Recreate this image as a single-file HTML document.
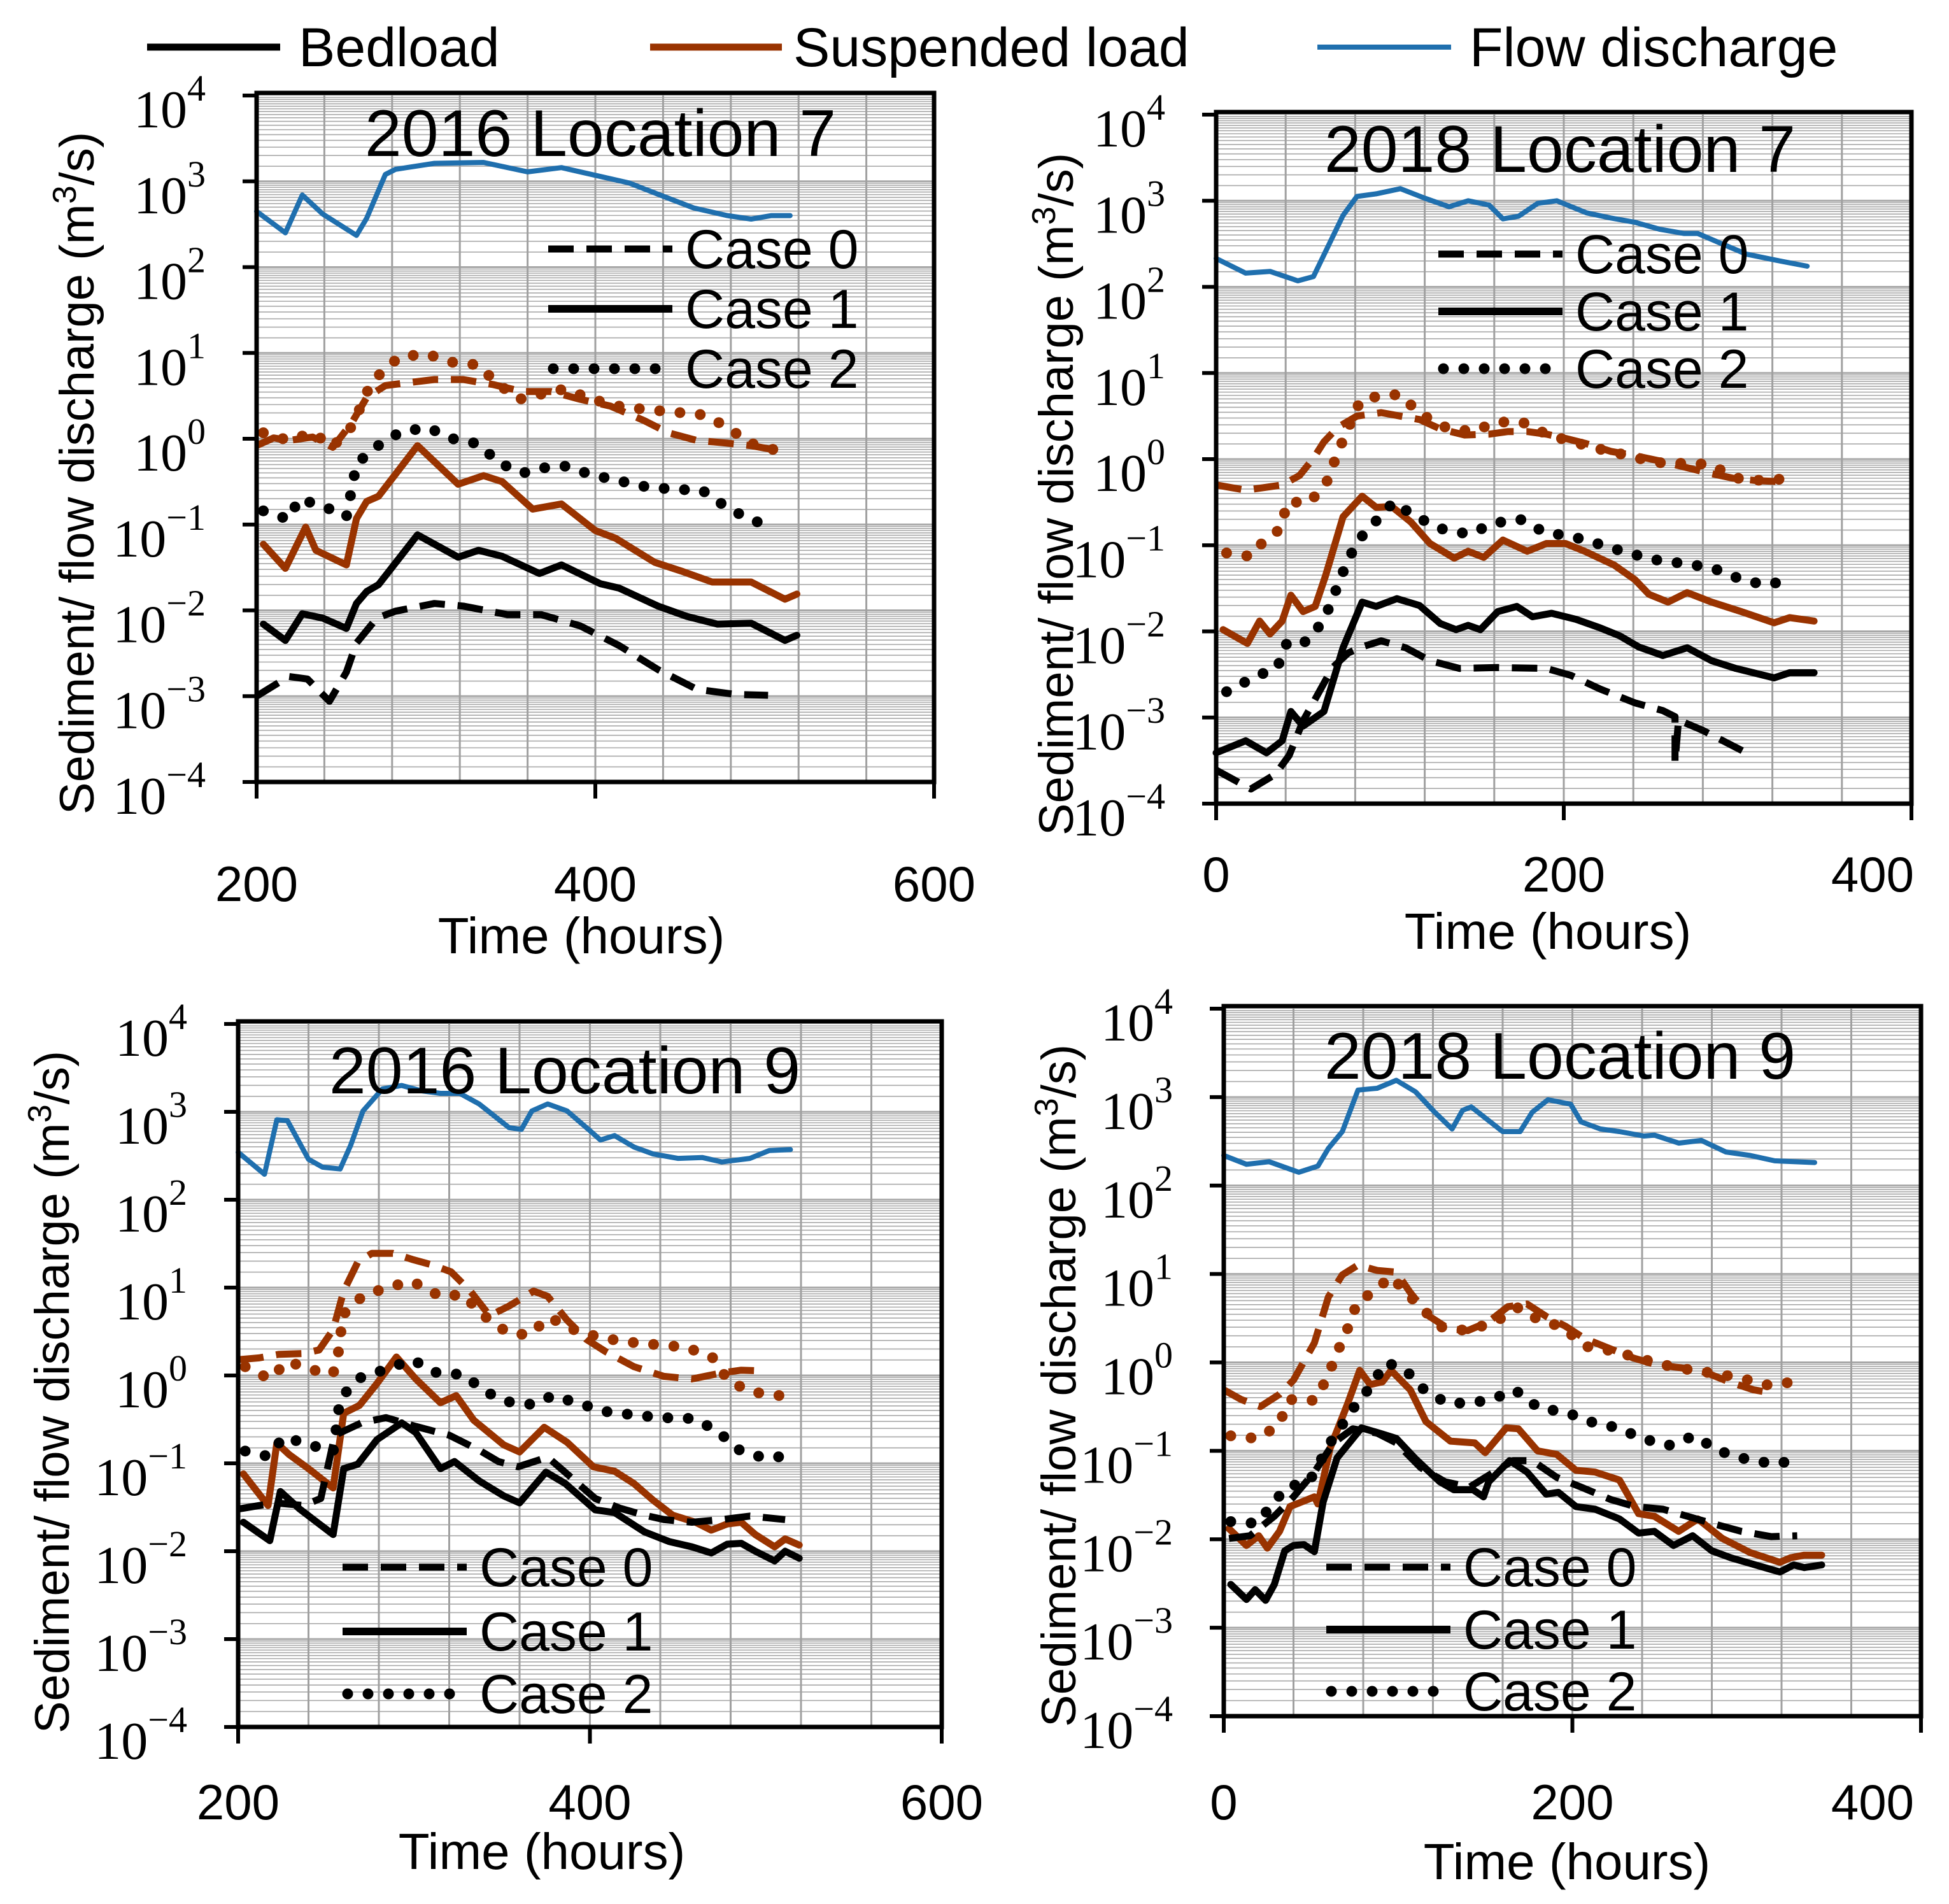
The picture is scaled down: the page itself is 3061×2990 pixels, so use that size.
<!DOCTYPE html>
<html><head><meta charset="utf-8">
<style>
html,body{margin:0;padding:0;background:#fff;}
svg{display:block;}
text{font-family:"Liberation Sans",sans-serif;}
.tk{font-family:"Liberation Serif","DejaVu Serif",serif;font-size:84px;}
</style></head>
<body>
<svg id="chart" width="3061" height="2990" viewBox="0 0 3061 2990" xmlns="http://www.w3.org/2000/svg">
  <g>
    <line x1="231" y1="74" x2="440" y2="74" stroke="#000" stroke-width="11"/>
    <text x="469" y="104" font-size="86">Bedload</text>
    <line x1="1021" y1="74" x2="1228" y2="74" stroke="#993300" stroke-width="11"/>
    <text x="1246" y="104" font-size="86">Suspended load</text>
    <line x1="2069" y1="74" x2="2279" y2="74" stroke="#1f6fae" stroke-width="8"/>
    <text x="2308" y="104" font-size="86">Flow discharge</text>
  </g>
</svg>
<script>
// ---- Panel 1: 2016 Location 7 (values are log10 of discharge) ----
const p1FlowT=[200,217,227,239,259,265,276,282,305,334,360,380,400,420,437,458,478,492,504,515];
const p1FlowV=[2.65,2.40,2.84,2.62,2.37,2.57,3.08,3.14,3.21,3.22,3.11,3.16,3.07,2.98,2.85,2.69,2.60,2.56,2.60,2.60];
const p1Sus1T=[204,217,229,235,253,259,265,272,295,319,334,345,363,380,400,412,435,452,469,492,512,519];
const p1Sus1V=[-1.23,-1.51,-1.03,-1.30,-1.47,-0.93,-0.73,-0.67,-0.08,-0.53,-0.43,-0.50,-0.82,-0.76,-1.07,-1.16,-1.44,-1.55,-1.67,-1.67,-1.87,-1.81];
const p1Bed1T=[204,217,227,239,253,259,265,272,295,319,331,345,367,380,403,414,437,454,472,492,512,519];
const p1Bed1V=[-2.16,-2.35,-2.04,-2.09,-2.21,-1.92,-1.78,-1.70,-1.12,-1.38,-1.30,-1.37,-1.57,-1.47,-1.69,-1.74,-1.95,-2.07,-2.16,-2.15,-2.35,-2.29];
const p1Bed0T=[200,219,230,243,253,259,271,282,305,322,348,368,391,414,437,460,483,502];
const p1Bed0V=[-3.00,-2.77,-2.80,-3.06,-2.72,-2.38,-2.09,-2.01,-1.92,-1.95,-2.05,-2.05,-2.18,-2.41,-2.69,-2.92,-2.98,-2.99];
const p1Bed2T=[204,219,225,241,253,256,259,271,285,301,316,331,343,357,369,382,398,414,430,447,463,477,491,507];
const p1Bed2V=[-0.84,-0.94,-0.70,-0.80,-0.91,-0.60,-0.29,-0.09,0.08,0.13,0.00,-0.06,-0.28,-0.40,-0.34,-0.32,-0.42,-0.49,-0.56,-0.59,-0.60,-0.79,-0.94,-1.04];
const p1Sus0T=[200,210,219,233,245,256,265,276,288,305,322,340,357,374,391,409,429,443,460,477,492,506];
const p1Sus0V=[-0.08,0.01,-0.02,0.02,-0.10,0.18,0.48,0.62,0.65,0.69,0.69,0.63,0.55,0.55,0.46,0.38,0.21,0.07,-0.02,-0.05,-0.08,-0.13];
const p1Sus2T=[204,219,233,245,258,263,271,284,300,316,331,341,355,368,382,398,414,430,447,463,477,491,506];
const p1Sus2V=[0.07,-0.02,0.07,-0.09,0.18,0.48,0.72,0.95,0.99,0.89,0.86,0.66,0.46,0.52,0.58,0.46,0.38,0.34,0.31,0.28,0.15,-0.05,-0.13];

// ---- Panel 2: 2018 Location 7 ----
const p2FlowT=[0,17,31,47,56,73,81,92,106,120,134,145,157,165,174,185,196,213,227,241,255,269,277,291,305,322,340];
const p2FlowV=[2.33,2.16,2.18,2.07,2.12,2.83,3.05,3.08,3.14,3.03,2.93,3.00,2.95,2.79,2.82,2.97,3.00,2.86,2.80,2.75,2.67,2.62,2.62,2.50,2.38,2.31,2.24];
const p2Sus1T=[4,18,25,31,38,43,50,57,63,73,84,92,101,112,123,137,145,154,165,179,190,201,212,229,241,249,260,271,285,302,321,330,344];
const p2Sus1V=[-1.98,-2.14,-1.88,-2.03,-1.88,-1.58,-1.77,-1.71,-1.35,-0.67,-0.43,-0.56,-0.55,-0.73,-0.98,-1.15,-1.07,-1.14,-0.94,-1.07,-0.98,-0.98,-1.07,-1.23,-1.40,-1.57,-1.66,-1.55,-1.66,-1.77,-1.90,-1.84,-1.88];
const p2Bed1T=[0,17,29,38,43,50,62,73,84,92,104,117,129,138,145,152,162,173,182,193,207,221,232,243,257,271,285,299,321,330,344];
const p2Bed1V=[-3.41,-3.27,-3.41,-3.27,-2.93,-3.10,-2.93,-2.19,-1.66,-1.71,-1.62,-1.70,-1.91,-1.98,-1.93,-1.98,-1.77,-1.71,-1.83,-1.79,-1.86,-1.96,-2.05,-2.18,-2.28,-2.19,-2.34,-2.43,-2.54,-2.48,-2.48];
const p2Bed0T=[0,20,34,42,50,67,76,84,95,109,123,140,162,190,204,221,241,257,264,264,266,280,305];
const p2Bed0V=[-3.61,-3.83,-3.66,-3.44,-3.04,-2.42,-2.25,-2.18,-2.11,-2.19,-2.34,-2.43,-2.42,-2.43,-2.51,-2.67,-2.83,-2.92,-2.99,-3.52,-3.03,-3.15,-3.41];
const p2Bed2T=[6,24,35,41,52,62,68,74,81,91,102,115,130,145,161,175,189,205,221,237,253,268,285,300,315,333];
const p2Bed2V=[-2.70,-2.51,-2.43,-2.12,-2.12,-1.87,-1.57,-1.26,-0.96,-0.74,-0.50,-0.67,-0.81,-0.87,-0.74,-0.70,-0.85,-0.90,-0.99,-1.09,-1.17,-1.21,-1.26,-1.38,-1.46,-1.40];
const p2Sus0T=[0,17,38,48,56,62,70,81,95,106,117,129,143,157,168,179,190,201,213,227,241,255,269,283,297,311,324];
const p2Sus0V=[-0.30,-0.36,-0.30,-0.19,0.01,0.20,0.37,0.50,0.54,0.50,0.46,0.35,0.28,0.29,0.32,0.32,0.29,0.24,0.18,0.09,0.04,-0.02,-0.09,-0.16,-0.22,-0.25,-0.26];
const p2Sus2T=[6,20,27,37,41,54,64,70,76,83,95,106,117,132,147,162,176,190,205,220,237,253,269,284,299,315,331];
const p2Sus2V=[-1.09,-1.13,-0.96,-0.81,-0.50,-0.50,-0.25,0.08,0.36,0.68,0.74,0.75,0.53,0.37,0.32,0.43,0.43,0.29,0.20,0.12,0.04,-0.04,-0.05,-0.06,-0.22,-0.25,-0.22];

// ---- Panel 3: 2016 Location 9 ----
const p3FlowT=[200,215,222,228,240,248,258,264,271,282,293,304,315,326,337,354,361,367,376,387,398,406,414,425,436,450,464,475,491,502,514];
const p3FlowV=[2.54,2.29,2.91,2.90,2.46,2.37,2.35,2.62,3.01,3.26,3.30,3.24,3.21,3.21,3.09,2.82,2.80,3.01,3.09,3.01,2.82,2.68,2.73,2.60,2.52,2.47,2.48,2.43,2.47,2.56,2.57];
const p3Sus1T=[203,217,222,229,240,254,260,269,279,290,301,315,324,334,351,360,374,387,402,414,425,436,447,460,469,478,486,494,505,511,519];
const p3Sus1V=[-1.12,-1.48,-0.77,-0.90,-1.06,-1.28,-0.43,-0.34,-0.09,0.21,-0.04,-0.31,-0.23,-0.51,-0.79,-0.87,-0.59,-0.76,-1.04,-1.09,-1.23,-1.42,-1.59,-1.67,-1.76,-1.69,-1.67,-1.81,-1.95,-1.86,-1.93];
const p3Bed1T=[203,218,224,235,254,260,268,279,293,301,315,323,337,351,360,375,386,403,414,431,445,458,469,478,486,494,505,511,519];
const p3Bed1V=[-1.67,-1.88,-1.32,-1.52,-1.81,-1.06,-1.01,-0.73,-0.54,-0.65,-1.06,-0.98,-1.20,-1.37,-1.45,-1.10,-1.23,-1.53,-1.56,-1.78,-1.89,-1.95,-2.02,-1.92,-1.91,-2.00,-2.11,-2.00,-2.08];
const p3Bed0T=[200,221,237,247,255,270,284,301,320,337,348,359,376,387,403,417,431,442,458,475,491,511];
const p3Bed0V=[-1.52,-1.45,-1.48,-1.40,-0.68,-0.54,-0.48,-0.58,-0.68,-0.85,-0.98,-1.04,-0.93,-1.12,-1.40,-1.51,-1.59,-1.64,-1.67,-1.64,-1.60,-1.64];
const p3Bed2T=[204,217,226,241,254,258,269,284,299,313,328,341,354,367,379,394,409,425,441,458,472,484,499,516];
const p3Bed2V=[-0.86,-0.92,-0.70,-0.79,-0.87,-0.26,-0.03,0.07,0.18,0.03,0.01,-0.19,-0.30,-0.33,-0.23,-0.32,-0.41,-0.45,-0.48,-0.49,-0.62,-0.84,-0.94,-0.91];
const p3Sus0T=[200,212,223,237,246,254,260,268,276,288,299,310,321,332,343,354,368,376,387,398,409,425,442,458,475,486,500];
const p3Sus0V=[0.18,0.20,0.24,0.25,0.29,0.52,0.96,1.29,1.39,1.39,1.32,1.26,1.18,0.96,0.68,0.79,0.96,0.90,0.63,0.41,0.27,0.10,-0.01,-0.04,0.03,0.06,0.05];
const p3Sus2T=[204,218,228,243,254,258,259,270,284,299,315,328,339,353,365,377,391,406,422,438,455,470,479,493,508];
const p3Sus2V=[0.10,-0.04,0.16,0.06,0.02,0.35,0.68,0.89,1.00,1.07,0.90,0.92,0.69,0.49,0.46,0.66,0.52,0.43,0.38,0.35,0.32,0.20,-0.07,-0.19,-0.23];

// ---- Panel 4: 2018 Location 9 ----
const p4FlowT=[0,13,26,43,54,60,68,77,88,99,110,121,131,137,142,149,160,170,177,186,199,205,216,227,241,247,261,274,288,302,316,339];
const p4FlowV=[2.34,2.24,2.27,2.15,2.22,2.42,2.61,3.08,3.10,3.19,3.06,2.83,2.64,2.85,2.89,2.78,2.61,2.61,2.83,2.97,2.92,2.72,2.64,2.61,2.56,2.57,2.48,2.51,2.38,2.34,2.28,2.26];
const p4Sus1T=[3,13,20,25,32,38,52,54,61,71,78,84,91,96,107,116,130,144,150,162,169,180,191,202,213,227,238,247,261,272,286,302,319,325,333,343];
const p4Sus1V=[-1.88,-2.07,-1.96,-2.10,-1.91,-1.63,-1.52,-1.60,-0.97,-0.47,-0.09,-0.25,-0.22,-0.09,-0.31,-0.67,-0.89,-0.91,-1.02,-0.74,-0.75,-1.00,-1.04,-1.22,-1.24,-1.33,-1.71,-1.74,-1.91,-1.77,-1.99,-2.15,-2.26,-2.21,-2.18,-2.18];
const p4Bed1T=[4,13,18,24,29,35,40,46,52,57,65,79,91,99,110,124,132,143,149,152,164,174,185,192,202,213,227,238,247,258,269,280,291,305,319,327,333,343];
const p4Bed1V=[-2.51,-2.68,-2.57,-2.69,-2.51,-2.13,-2.07,-2.06,-2.14,-1.58,-1.08,-0.74,-0.81,-0.86,-1.09,-1.35,-1.44,-1.44,-1.52,-1.35,-1.11,-1.24,-1.49,-1.47,-1.63,-1.66,-1.77,-1.93,-1.91,-2.07,-1.96,-2.13,-2.21,-2.29,-2.37,-2.29,-2.32,-2.29];
const p4Bed0T=[3,15,29,40,52,63,74,88,99,113,127,141,155,166,177,191,205,222,236,252,266,280,297,314,329];
const p4Bed0V=[-1.99,-1.96,-1.74,-1.52,-1.24,-0.91,-0.75,-0.80,-0.91,-1.19,-1.35,-1.41,-1.24,-1.11,-1.11,-1.30,-1.41,-1.55,-1.63,-1.66,-1.74,-1.82,-1.91,-1.97,-1.96];
const p4Bed2T=[4,19,36,49,61,75,84,93,104,115,128,142,155,167,181,196,210,226,240,255,270,284,299,316,332];
const p4Bed2V=[-1.80,-1.82,-1.41,-1.35,-0.91,-0.50,-0.28,0.00,-0.08,-0.31,-0.46,-0.46,-0.41,-0.31,-0.52,-0.56,-0.67,-0.74,-0.86,-0.94,-0.83,-1.00,-1.09,-1.15,-1.09];
const p4Sus0T=[0,10,21,32,40,52,60,68,77,88,99,107,118,129,140,152,163,174,185,196,207,221,235,249,262,276,290,304,316];
const p4Sus0V=[-0.31,-0.42,-0.50,-0.36,-0.20,0.22,0.74,0.99,1.10,1.04,1.02,0.79,0.52,0.38,0.36,0.46,0.63,0.66,0.52,0.41,0.27,0.16,0.05,-0.03,-0.06,-0.11,-0.22,-0.31,-0.35];
const p4Sus2T=[4,19,31,38,52,59,65,71,77,84,96,112,125,139,155,169,180,194,208,223,238,253,269,284,299,313,330];
const p4Sus2V=[-0.83,-0.86,-0.72,-0.42,-0.43,-0.19,0.11,0.38,0.70,0.77,0.97,0.64,0.40,0.36,0.45,0.62,0.49,0.40,0.18,0.13,0.05,-0.03,-0.09,-0.13,-0.19,-0.26,-0.21];

const yTickExps=[4,3,2,1,0,-1,-2,-3,-4];
const p1XTicks=[200,400,600];
const p2XTicks=[0,200,400];

const NS="http://www.w3.org/2000/svg";
const svg=document.getElementById('chart');
function mk(tag,attrs,parent){const e=document.createElementNS(NS,tag);for(const k in attrs)e.setAttribute(k,attrs[k]);(parent||svg).appendChild(e);return e;}

const BROWN="#993300",BLUE="#1f6fae";
const panels=[
 {id:'2016-loc7',title:'2016 Location 7',x0:403,x1:1467,xmin:200,xmax:600,yT:150,yB:1228,ticks:p1XTicks,
  titleX:943,titleY:245,xlabY:1415,xtitle:[913,1497],ytitle:[121,743],legX:861,legY:[391,485,579],
  s:[[p1FlowT,p1FlowV,'flow'],[p1Sus0T,p1Sus0V,'sus0'],[p1Sus2T,p1Sus2V,'sus2'],[p1Sus1T,p1Sus1V,'sus1'],[p1Bed0T,p1Bed0V,'bed0'],[p1Bed2T,p1Bed2V,'bed2'],[p1Bed1T,p1Bed1V,'bed1']]},
 {id:'2018-loc7',title:'2018 Location 7',x0:1910,x1:3002,xmin:0,xmax:400,yT:180,yB:1262,ticks:p2XTicks,
  titleX:2450,titleY:270,xlabY:1400,xtitle:[2431,1490],ytitle:[1659,776],legX:2259,legY:[399,489,579],
  s:[[p2FlowT,p2FlowV,'flow'],[p2Sus0T,p2Sus0V,'sus0'],[p2Sus2T,p2Sus2V,'sus2'],[p2Sus1T,p2Sus1V,'sus1'],[p2Bed0T,p2Bed0V,'bed0'],[p2Bed2T,p2Bed2V,'bed2'],[p2Bed1T,p2Bed1V,'bed1']]},
 {id:'2016-loc9',title:'2016 Location 9',x0:374,x1:1479,xmin:200,xmax:600,yT:1608,yB:2712,ticks:p1XTicks,
  titleX:887,titleY:1717,xlabY:2857,xtitle:[851,2935],ytitle:[82,2186],legX:538,legY:[2461,2562,2660],
  s:[[p3FlowT,p3FlowV,'flow'],[p3Sus0T,p3Sus0V,'sus0'],[p3Sus2T,p3Sus2V,'sus2'],[p3Sus1T,p3Sus1V,'sus1'],[p3Bed0T,p3Bed0V,'bed0'],[p3Bed2T,p3Bed2V,'bed2'],[p3Bed1T,p3Bed1V,'bed1']]},
 {id:'2018-loc9',title:'2018 Location 9',x0:1922,x1:3017,xmin:0,xmax:400,yT:1584,yB:2695,ticks:p2XTicks,
  titleX:2450,titleY:1694,xlabY:2857,xtitle:[2461,2951],ytitle:[1663,2176],legX:2083,legY:[2461,2559,2656],
  s:[[p4FlowT,p4FlowV,'flow'],[p4Sus0T,p4Sus0V,'sus0'],[p4Sus2T,p4Sus2V,'sus2'],[p4Sus1T,p4Sus1V,'sus1'],[p4Bed0T,p4Bed0V,'bed0'],[p4Bed2T,p4Bed2V,'bed2'],[p4Bed1T,p4Bed1V,'bed1']]}
];
const styles={
 flow:{stroke:BLUE,w:8,dash:null,name:'flow-discharge-line'},
 sus0:{stroke:BROWN,w:11,dash:'40 20',cap:'butt',name:'suspended-case0-line'},
 sus1:{stroke:BROWN,w:11,dash:null,name:'suspended-case1-line'},
 sus2:{stroke:BROWN,w:17,dash:'0 32',cap:'round',name:'suspended-case2-line'},
 bed0:{stroke:'#000',w:11,dash:'40 20',cap:'butt',name:'bedload-case0-line'},
 bed1:{stroke:'#000',w:11,dash:null,name:'bedload-case1-line'},
 bed2:{stroke:'#000',w:17,dash:'0 32',cap:'round',name:'bedload-case2-line'}
};

panels.forEach(p=>{
 const g=mk('g',{});
 
 
 const X=t=>p.x0+(t-p.xmin)/(p.xmax-p.xmin)*(p.x1-p.x0);
 const dec=(p.yB-p.yT)/8;
 const Y=v=>p.yT+(4-v)*dec;
 const grid=mk('g',{},g);
 
 
 for(let d=-4;d<4;d++){
  for(let k=1;k<10;k+=0.5){
   const y=Y(d+Math.log10(k));
   mk('line',{x1:p.x0,x2:p.x1,y1:y,y2:y,stroke:'#a8a8a8','stroke-width':k===1?3:1.6},grid);
  }
 }
 for(let t=p.xmin;t<=p.xmax;t+=40){
  mk('line',{x1:X(t),x2:X(t),y1:p.yT,y2:p.yB,stroke:'#a0a0a0','stroke-width':3},grid);
 }
 p.s.forEach(([T,V,key])=>{
  const st=styles[key];
  const d=T.map((t,i)=>(i?'L':'M')+X(t).toFixed(1)+' '+Y(V[i]).toFixed(1)).join(' ');
  const a={d:d,fill:'none',stroke:st.stroke,'stroke-width':st.w,'stroke-linejoin':'round','stroke-linecap':st.cap||'round'};
  if(st.dash)a['stroke-dasharray']=st.dash;
  const path=mk('path',a,g);
  
  
 });
 const fr=mk('rect',{x:p.x0,y:p.yT-4,width:p.x1-p.x0,height:p.yB-p.yT+4,fill:'none',stroke:'#000','stroke-width':7},g);
 
 
 yTickExps.forEach(e=>{
  const y=Y(e);
  mk('line',{x1:p.x0-22,x2:p.x0,y1:y,y2:y,stroke:'#000','stroke-width':6},g);
  const tx=mk('text',{x:p.x0-80,y:y+50,'text-anchor':'end',class:'tk'},g);
  
  
  tx.textContent='10';
  const sup=mk('tspan',{dy:-42,'font-size':58},tx);
  sup.textContent=e<0?'\u2212'+(-e):String(e);
 });
 p.ticks.forEach(t=>{
  mk('line',{x1:X(t),x2:X(t),y1:p.yB,y2:p.yB+26,stroke:'#000','stroke-width':6},g);
  const lx=Math.min(X(t),3061-120);
  const tx=mk('text',{x:lx,y:p.xlabY,'text-anchor':'middle','font-size':78},g);
  
  
  tx.textContent=t;
 });
 const xt=mk('text',{x:p.xtitle[0],y:p.xtitle[1],'text-anchor':'middle','font-size':80},g);
 
 
 xt.textContent='Time (hours)';
 const yt=mk('text',{x:0,y:0,'text-anchor':'middle','font-size':76,transform:`translate(${p.ytitle[0]+26},${p.ytitle[1]}) rotate(-90)`},g);
 
 
 yt.textContent='Sediment/ flow discharge  (m';
 const s3=mk('tspan',{dy:-28,'font-size':52},yt); s3.textContent='3';
 const s4=mk('tspan',{dy:28},yt); s4.textContent='/s)';
 const ti=mk('text',{x:p.titleX,y:p.titleY,'text-anchor':'middle','font-size':104},g);
 
 
 ti.textContent=p.title;
 const cases=[['Case 0','40 20','butt',11],['Case 1',null,'butt',12],['Case 2','0 32','round',17]];
 cases.forEach((c,i)=>{
  const y=p.legY[i];
  const la={x1:p.legX+(c[2]==='round'?8:0),x2:p.legX+195,y1:y,y2:y,stroke:'#000','stroke-width':c[3],'stroke-linecap':c[2]};
  if(c[1])la['stroke-dasharray']=c[1];
  const ln=mk('line',la,g);
  
  
  const tx=mk('text',{x:p.legX+215,y:y+30,'font-size':86},g);
  
  
  tx.textContent=c[0];
 });
});
</script>
</body></html>
